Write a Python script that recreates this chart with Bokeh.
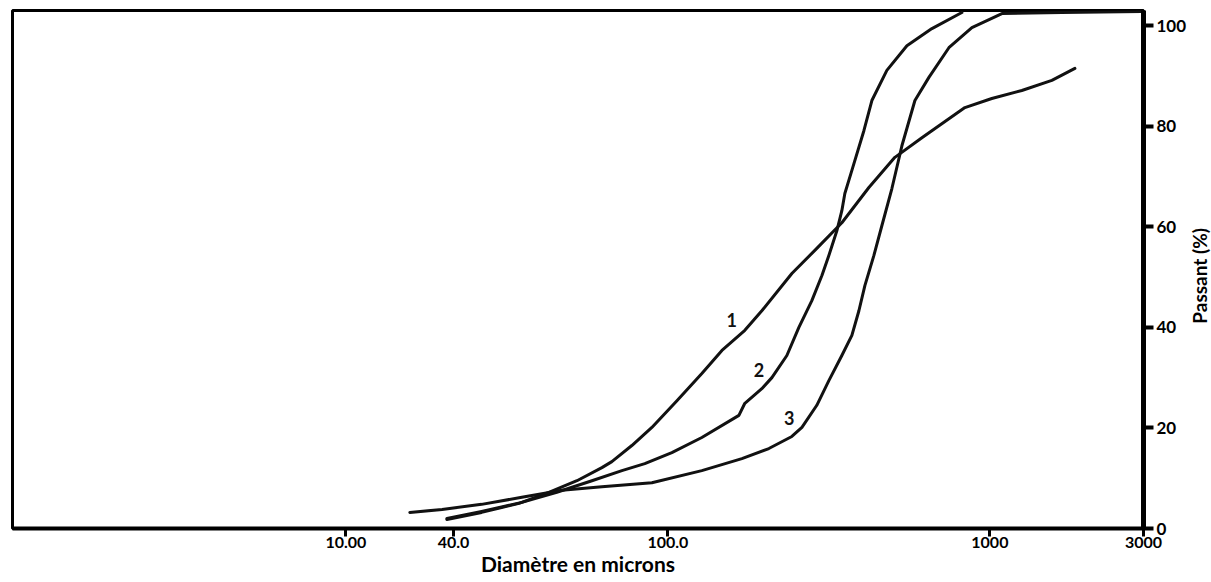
from bokeh.plotting import figure
from bokeh.models import FixedTicker, Range1d, Label
from bokeh.layouts import row
from bokeh.core.properties import value
from bokeh.embed import file_html
from bokeh.resources import INLINE

# ---- data (diameter in microns, passing %) ----
curve1_d = [20.6, 26.4, 34.5, 42.7, 52.2, 62.4, 67.0, 77.3, 89.2, 106.7, 127.5, 147.2,
            173.4, 195.8, 242.7, 290.1, 347.0, 421.0, 507.0, 615.1, 836.5, 1014, 1257,
            1558, 1837]
curve1_p = [1.8, 3.2, 5.0, 7.2, 9.5, 12.1, 13.3, 16.5, 20.1, 25.4, 30.8, 35.4,
            39.4, 43.3, 50.7, 55.7, 60.8, 67.8, 73.8, 77.7, 83.7, 85.5, 87.1,
            89.1, 91.5]

curve2_d = [20.6, 26.4, 35.2, 45.2, 58.1, 72.0, 84.8, 102.9, 127.5, 166.2, 173.4, 195.8,
            210.4, 234.2, 255.2, 280.0, 300.9, 316.2, 334.8, 347.0, 354.5, 372.8, 406.2,
            430.1, 478.7, 552.5, 660.7, 818.6]
curve2_p = [2.0, 3.4, 5.2, 7.2, 9.5, 11.5, 12.9, 15.1, 18.1, 22.5, 24.9, 27.8,
            30.0, 34.4, 40.0, 45.3, 50.3, 54.3, 59.2, 63.2, 66.6, 71.2, 79.1,
            85.1, 91.1, 96.0, 99.4, 102.6]

curve3_d = [15.8, 19.9, 26.4, 35.2, 46.9, 62.4, 89.2, 127.5, 169.8, 205.9, 242.7, 260.8,
            290.1, 316.2, 347.0, 372.8, 392.0, 409.1, 436.4, 461.9, 496.3, 533.1, 585.1,
            646.7, 746.0, 879.4, 1090, 1673, 2965]
curve3_p = [3.2, 3.8, 4.8, 6.2, 7.6, 8.3, 9.1, 11.5, 13.9, 15.9, 18.3, 20.1,
            24.5, 29.4, 34.4, 38.4, 43.3, 48.3, 54.3, 60.2, 67.6, 76.1, 85.1,
            89.7, 95.6, 99.6, 102.4, 102.6, 102.8]

curve_names = ["1", "2", "3"]
name_d = [158, 192, 238]
name_p = [41.4, 31.6, 21.9]

x_ticks = [10, 21.6, 100, 1000, 3000]
x_tick_labels = ["10.00", "40.0", "100.0", "1000", "3000"]
y_ticks = [0, 20, 40, 60, 80, 100]

FONT = "Lato"

p = figure(frame_width=1131, frame_height=518,
           x_axis_type="log", x_range=Range1d(0.922, 3000), y_range=Range1d(0, 103),
           y_axis_location="right",
           output_backend="svg", toolbar_location=None,
           min_border_left=12, min_border_top=10, min_border_bottom=0, min_border_right=0)

p.background_fill_color = "white"
p.border_fill_color = "white"
p.outline_line_color = "black"
p.outline_line_width = 3
p.xgrid.visible = False
p.ygrid.visible = False

for d, v in [(curve1_d, curve1_p), (curve2_d, curve2_p), (curve3_d, curve3_p)]:
    p.line(d, v, line_color="#111111", line_width=3, line_join="round", line_cap="round")

p.text(x=name_d, y=name_p, text=curve_names, text_font=value(FONT), text_font_style="bold",
       text_font_size="18px", text_align="center", text_baseline="middle", text_color="#111111")

# x axis
xa = p.xaxis[0]
xa.ticker = FixedTicker(ticks=x_ticks, minor_ticks=[])
xa.major_label_overrides = {t: l for t, l in zip(x_ticks, x_tick_labels)}
xa.axis_line_width = 4
xa.axis_line_color = "black"
xa.major_tick_line_width = 3
xa.major_tick_out = 8
xa.major_tick_in = 0
xa.minor_tick_line_color = None
xa.major_label_text_font = FONT
xa.major_label_text_font_style = "bold"
xa.major_label_text_font_size = "16px"
xa.major_label_text_color = "black"
xa.major_label_standoff = 0
xa.axis_label = "Diamètre en microns"
xa.axis_label_text_font = FONT
xa.axis_label_text_font_style = "bold"
xa.axis_label_text_font_size = "21px"
xa.axis_label_text_color = "black"
xa.axis_label_standoff = 0

# y axis (right)
ya = p.yaxis[0]
ya.ticker = FixedTicker(ticks=y_ticks, minor_ticks=[])
ya.axis_line_width = 5
ya.axis_line_color = "black"
ya.major_tick_line_width = 4
ya.major_tick_out = 10
ya.major_tick_in = 0
ya.minor_tick_line_color = None
ya.major_label_text_font = FONT
ya.major_label_text_font_style = "bold"
ya.major_label_text_font_size = "17px"
ya.major_label_text_color = "black"
ya.major_label_standoff = 3

# narrow side strip holding the right-hand title, reading bottom to top
SIDE_H = 579
side = figure(width=22, height=SIDE_H, x_range=Range1d(0, 22), y_range=Range1d(0, SIDE_H),
              x_axis_location=None, y_axis_location=None,
              output_backend="svg", toolbar_location=None,
              min_border_left=0, min_border_right=0, min_border_top=0, min_border_bottom=0)
side.outline_line_color = None
side.background_fill_color = "white"
side.border_fill_color = "white"
side.xgrid.visible = False
side.ygrid.visible = False
side.add_layout(Label(x=10, y=SIDE_H - 296, text="Passant (%)", angle=90, angle_units="deg",
                      text_font=FONT, text_font_style="bold", text_font_size="19px",
                      text_align="center", text_baseline="middle", text_color="black"))

layout = row(p, side, spacing=0)
open("out.html", "w").write(file_html(layout, INLINE))
